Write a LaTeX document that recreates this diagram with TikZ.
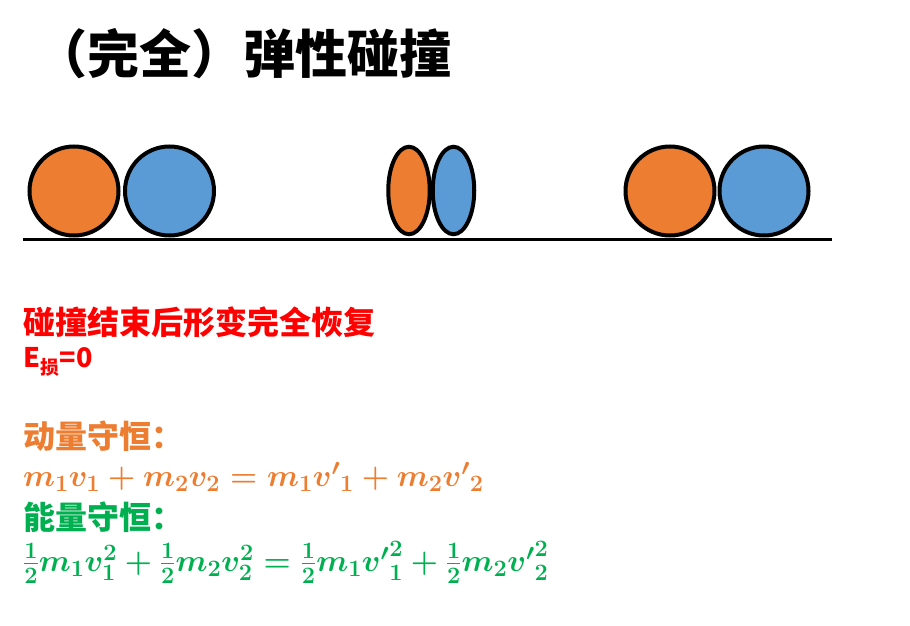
\documentclass[tikz,border=0pt]{standalone}
\usepackage{fix-cm}
\usepackage{fontspec}
\usepackage{amsmath}
\usetikzlibrary{shapes.geometric}
\newfontfamily\cjk{Noto Sans CJK SC}
\DeclareMathSizes{31}{31}{23.5}{18}
\definecolor{ballorange}{HTML}{ED7D31}
\definecolor{ballblue}{HTML}{5B9BD5}
\definecolor{lossred}{HTML}{FF0000}
\definecolor{energygreen}{HTML}{00B050}

\begin{document}
\begin{tikzpicture}[x=1pt,y=-1pt]
  % Define styles for nodes
  \tikzstyle{ball} = [draw, circle, line width=4pt, minimum size=89pt,
  inner sep=0pt]
  \tikzstyle{squashed} = [draw, ellipse, line width=4pt, minimum width=41.5pt,
  minimum height=87.5pt, inner sep=0pt]
  \tikzstyle{heading} = [anchor=west, inner sep=0pt,
  font=\cjk\bfseries\fontsize{52}{62}\selectfont]
  \tikzstyle{note} = [anchor=west, inner sep=0pt,
  font=\cjk\bfseries\fontsize{32}{38}\selectfont]
  \tikzstyle{eqn} = [anchor=west, inner sep=0pt,
  font=\boldmath\fontsize{31}{37}\selectfont]

  \useasboundingbox (0,0) rectangle (910,626);

  % Title
  \node[heading] (title) at (35,54) {（完全）弹性碰撞};

  % Ground
  \coordinate (groundL) at (23,239);
  \coordinate (groundR) at (832,239);
  \draw[line width=3pt] (groundL) -- (groundR);

  % Before the collision
  \node[ball, fill=ballorange] (before1) at (74,191) {};
  \node[ball, fill=ballblue] (before2) at (169.5,191) {};

  % During the collision
  \node[squashed, fill=ballorange] (during1) at (409,190.5) {};
  \node[squashed, fill=ballblue] (during2) at (453.5,190.5) {};

  % After the collision
  \node[ball, fill=ballorange] (after1) at (670,191) {};
  \node[ball, fill=ballblue] (after2) at (764,191) {};

  % Notes
  \node[note, text=lossred] (recover) at (23,322) {碰撞结束后形变完全恢复};
  \node[note, text=lossred, font=\cjk\bfseries\fontsize{27}{32}\selectfont]
  (loss) at (23,362) {E\textsubscript{损}=0};

  \node[note, text=ballorange] (momentum) at (23,436) {动量守恒：};
  \node[eqn, text=ballorange] (momeq) at (23,477)
  {$m_1v_1+m_2v_2=m_1{v'}_1+m_2{v'}_2$};

  \node[note, text=energygreen] (energy) at (23,517) {能量守恒：};
  \node[eqn, text=energygreen] (energyeq) at (23,562)
  {$\frac{1}{2}m_1v_1^2+\frac{1}{2}m_2v_2^2=\frac{1}{2}m_1{v'}_1^2+\frac{1}{2}m_2{v'}_2^2$};
\end{tikzpicture}
\end{document}
